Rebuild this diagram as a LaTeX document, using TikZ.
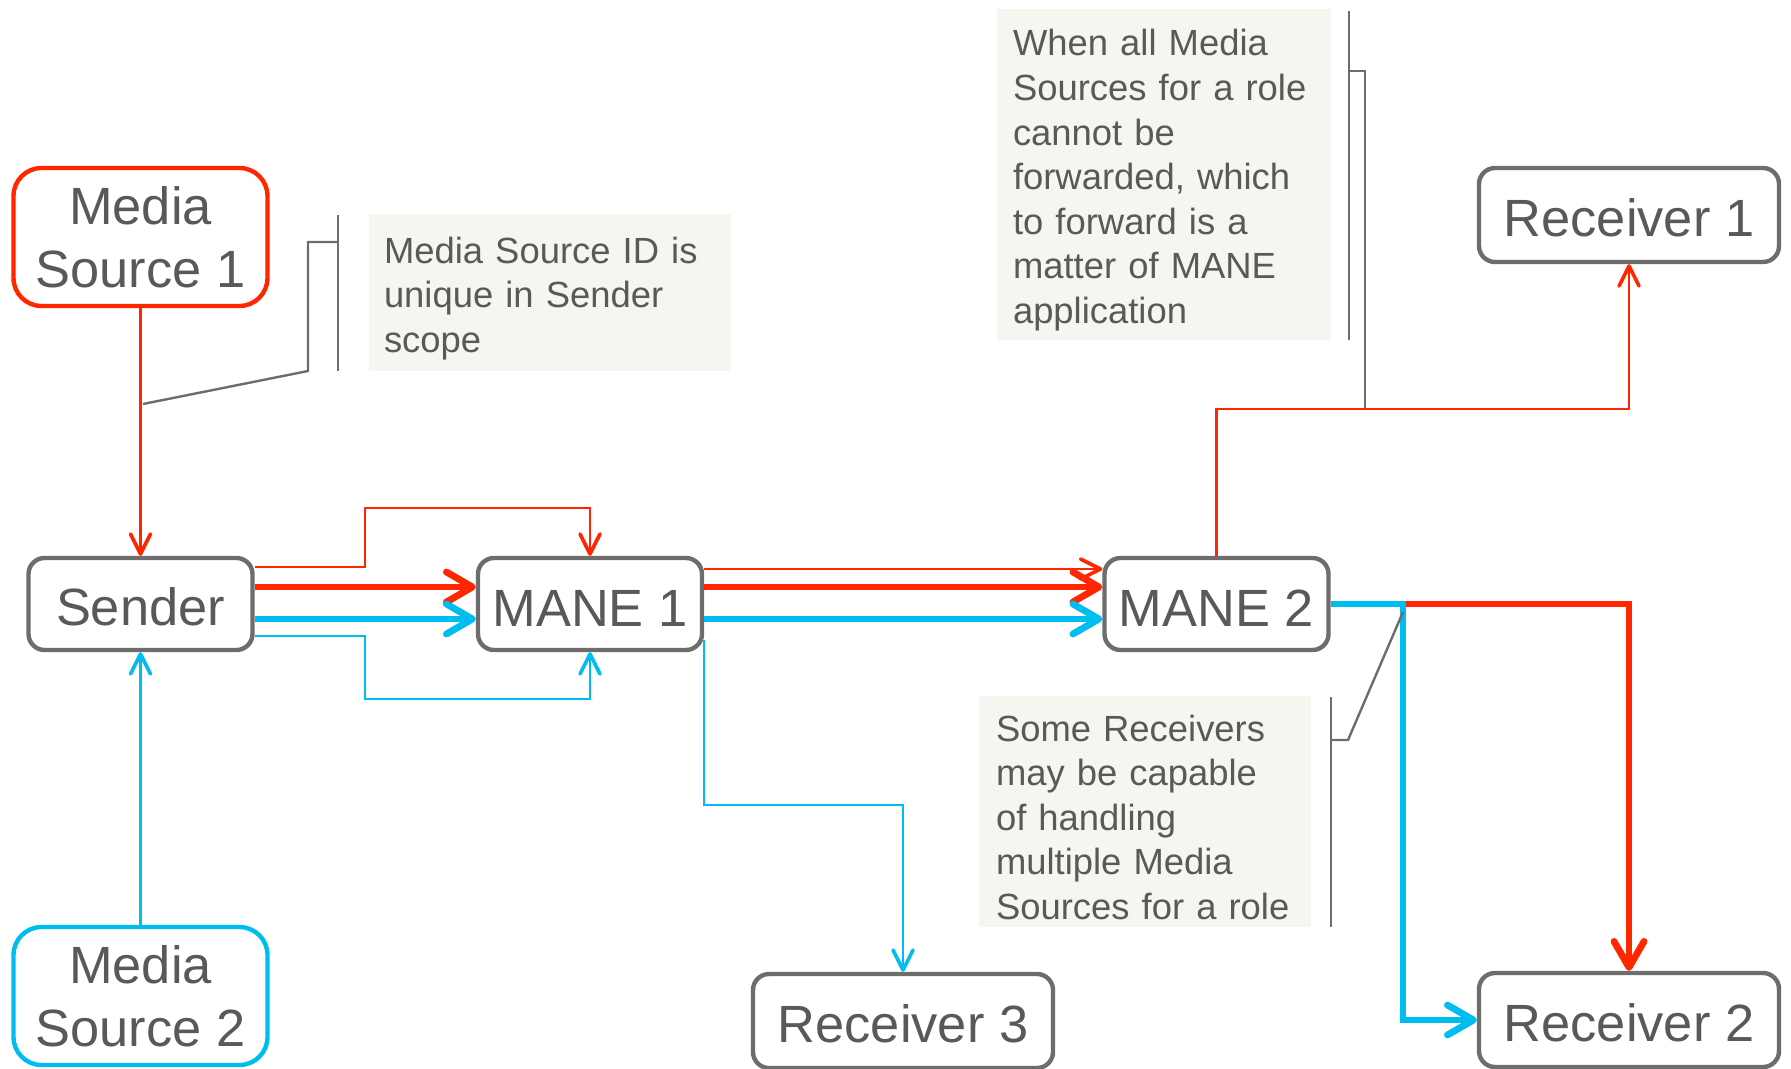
\documentclass[tikz,border=0pt]{standalone}
\usepackage{fontspec}
\setmainfont{Liberation Sans}
\usepackage{xcolor}
\usetikzlibrary{arrows.meta}

\definecolor{mred}{HTML}{FF2600}
\definecolor{mblue}{HTML}{00BDF0}
\definecolor{boxgray}{HTML}{6D6D6D}
\definecolor{textgray}{HTML}{595959}
\definecolor{notefill}{HTML}{F4F6EF}

\tikzset{
  box/.style={draw=boxgray, line width=2.2pt, rounded corners=8pt, fill=white,
    text=textgray, align=center, inner sep=0pt,
    font=\fontsize{26.2}{31.5}\selectfont,
    execute at begin node={\rule{0pt}{22pt}}},
  srcbox/.style={box, rounded corners=14pt, minimum width=127pt, minimum height=69pt,
    execute at begin node={\rule{0pt}{25pt}}},
  mbox/.style={box, minimum width=112pt, minimum height=46pt},
  rbox/.style={box, minimum width=150pt, minimum height=47pt},
  note/.style={fill=notefill, text=textgray, align=left, inner xsep=7.5pt,
    font=\fontsize{18.2}{22.3}\selectfont,
    execute at begin node={\rule{0pt}{19pt}}},
  thinred/.style={draw=mred, line width=1.1pt, -{Straight Barb[length=10pt,width=10pt,line width=1.8pt,round]}},
  thinblue/.style={draw=mblue, line width=1.1pt, -{Straight Barb[length=10pt,width=10pt,line width=1.8pt,round]}},
  thickred/.style={draw=mred, line width=3.4pt, -{Straight Barb[length=13pt,width=15pt,round]}},
  thickblue/.style={draw=mblue, line width=3.4pt, -{Straight Barb[length=13pt,width=15pt,round]}},
  callout/.style={draw=boxgray, line width=1.2pt}
}

\begin{document}
\begin{tikzpicture}[x=0.5pt,y=-0.5pt]
  \useasboundingbox (0,0) rectangle (1791,1069);

  % boxes
  \node[srcbox, draw=mred] (1) at (140.5,237) {Media\\Source 1};
  \node[mbox] (2) at (140.5,604) {Sender};
  \node[mbox] (3) at (590,604) {MANE 1};
  \node[mbox] (4) at (1216.5,604) {MANE 2};
  \node[rbox] (5) at (1629,215) {Receiver 1};
  \node[rbox] (6) at (1629,1020) {Receiver 2};
  \node[rbox] (7) at (903,1021) {Receiver 3};
  \node[srcbox, draw=mblue] (8) at (140.5,996) {Media\\Source 2};

  % notes
  \node[note, minimum width=181pt, minimum height=78.5pt, text width=166pt] (9) at (550,292.5)
    {Media Source ID is\\unique in Sender\\scope};
  \node[note, inner xsep=8pt, minimum width=167pt, minimum height=165.5pt, text width=151pt] (10) at (1164,174.5)
    {When all Media\\Sources for a role\\cannot be\\forwarded, which\\to forward is a\\matter of MANE\\application};
  \node[note, inner xsep=8.5pt, minimum width=166pt, minimum height=115.5pt, text width=149pt,
    execute at begin node={\rule{0pt}{16pt}}] (11) at (1145,811.5)
    {Some Receivers\\may be capable\\of handling\\multiple Media\\Sources for a role};

  % sources to sender
  \draw[thinred] (1) -- (2);
  \draw[thinblue] (8) -- (2);

  % sender to MANE 1
  \draw[thinred] ([yshift=18.5pt]2.east) -| (365,508) -| (3.north);
  \draw[thinblue] ([yshift=-16pt]2.east) -| (365,699) -| (3.south);
  \draw[thickred] ([yshift=8.5pt]2.east) -- ([yshift=8.5pt]3.west);
  \draw[thickblue] ([yshift=-7.5pt]2.east) -- ([yshift=-7.5pt]3.west);

  % MANE 1 to MANE 2 and Receiver 3
  \draw[thinred] ([yshift=17.5pt]3.east) -- ([yshift=17.5pt]4.west);
  \draw[thickred] ([yshift=8.5pt]3.east) -- ([yshift=8.5pt]4.west);
  \draw[thickblue] ([yshift=-7.5pt]3.east) -- ([yshift=-7.5pt]4.west);
  \draw[thinblue] ([yshift=-18pt]3.east) |- (903,805) -- (7.north);

  % MANE 2 to receivers
  \coordinate (j) at (1403,604);
  \draw[thinred] (4.north) |- (1629,409) -- (5.south);
  \draw[thickred] (j) -| (6.north);
  \draw[thickblue] (4.east) -- (j) |- (6.west);

  % callouts
  \draw[callout] (338,215) -- (338,371);
  \draw[callout] (338,242) -- (308,242) -- (308,371) -- (143,404);
  \draw[callout] (1349,11) -- (1349,340);
  \draw[callout] (1349,71) -- (1365,71) -- (1365,408);
  \draw[callout] (1331,697) -- (1331,927);
  \draw[callout] (1331,740) -- (1348,740) -- (1403,612);
\end{tikzpicture}
\end{document}
